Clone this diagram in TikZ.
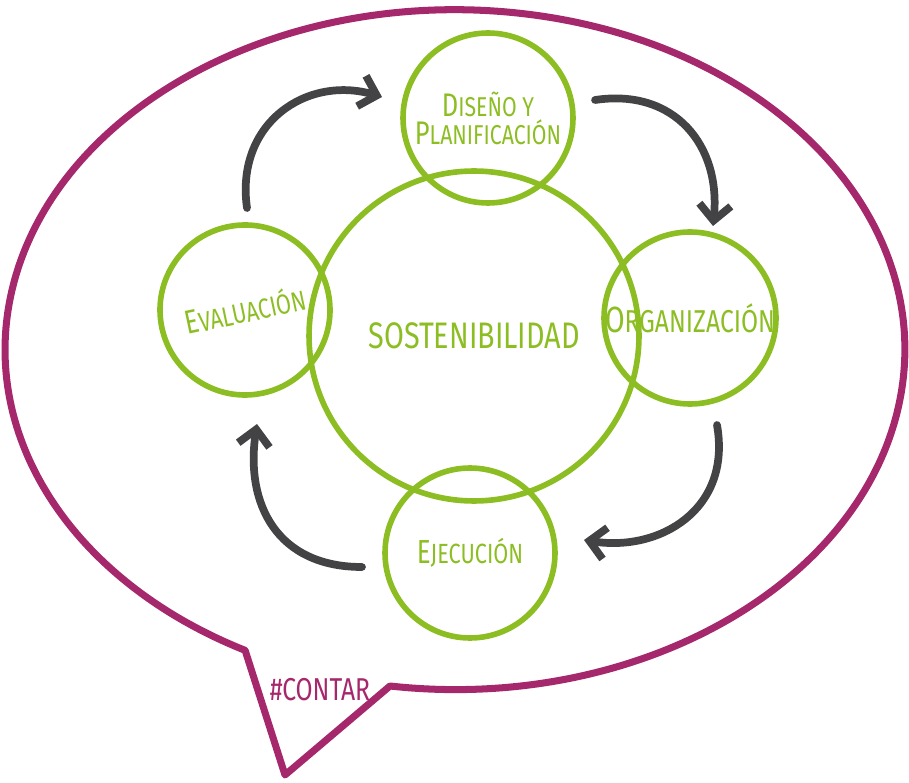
\documentclass[tikz,border=0pt]{standalone}
\usepackage{fontspec}
\usepackage{relsize}
\setmainfont{Fira Sans}
\newfontfamily\hand[FakeStretch=0.78]{Fira Sans}
\usetikzlibrary{arrows.meta}
\definecolor{leaf}{HTML}{8CBE23}
\definecolor{berry}{HTML}{A6286C}
\definecolor{ink}{HTML}{434245}
\newcommand{\firstbig}[2]{{\relscale{1.2}#1}#2}

\begin{document}
\begin{tikzpicture}[x=0.02cm,y=-0.02cm,
        phase/.style={circle,draw=leaf,line width=3.2pt,minimum size=3.4cm,
          inner sep=0pt,text=leaf,align=center,
          font=\hand\fontsize{15.8}{17}\selectfont},
        hub/.style={phase,minimum size=6.6cm,font=\hand\fontsize{21}{23}\selectfont},
        turn/.style={draw=ink,line width=4.4pt,line cap=round,
          -{Straight Barb[length=9pt,width=18pt]}},
        talk/.style={draw=berry,line width=4pt,line join=round}]
  \useasboundingbox (0,0) rectangle (909,783);

  % speech bubble
  \coordinate (tailA) at (390,686);
  \coordinate (tip) at (285,775);
  \draw[talk] (tailA) arc[start angle=-98.3,end angle=242.2,
      x radius=9cm,y radius=6.8cm] -- (tip) -- cycle;
  \node[text=berry,font=\hand\fontsize{18}{20}\selectfont] (tag) at (320,690) {\#CONTAR};

  % cycle
  \node[hub] (sost) at (474,336) {SOSTENIBILIDAD};
  \node[phase,font=\hand\fontsize{15.5}{17}\selectfont] (diseno) at (488,118)
      {\firstbig{D}{ISEÑO Y}\\[-1pt]\firstbig{P}{LANIFICACIÓN}};
  \node[phase,font=\hand\fontsize{18}{20}\selectfont] (organ) at (690,318)
      {\firstbig{O}{RGANIZACIÓN}};
  \node[phase] (ejec) at (470,553) {\firstbig{E}{JECUCIÓN}};
  \node[phase,rotate=12] (evalu) at (245,310) {\firstbig{E}{VALUACIÓN}};

  % arrows between the phases
  \coordinate (t1s) at (247,208);
  \coordinate (t1e) at (382,97);
  \coordinate (t2s) at (595,100);
  \coordinate (t2e) at (713,226);
  \coordinate (t3s) at (717,425);
  \coordinate (t3e) at (584,540);
  \coordinate (t4s) at (362,567);
  \coordinate (t4e) at (257,424);
  \draw[turn] (t1s) .. controls +(-12,-85) and +(-75,-22) .. (t1e);
  \draw[turn] (t2s) .. controls +(80,-12) and +(8,-80) .. (t2e);
  \draw[turn] (t3s) .. controls +(15,85) and +(75,12) .. (t3e);
  \draw[turn] (t4s) .. controls +(-85,0) and +(-12,80) .. (t4e);
\end{tikzpicture}
\end{document}
